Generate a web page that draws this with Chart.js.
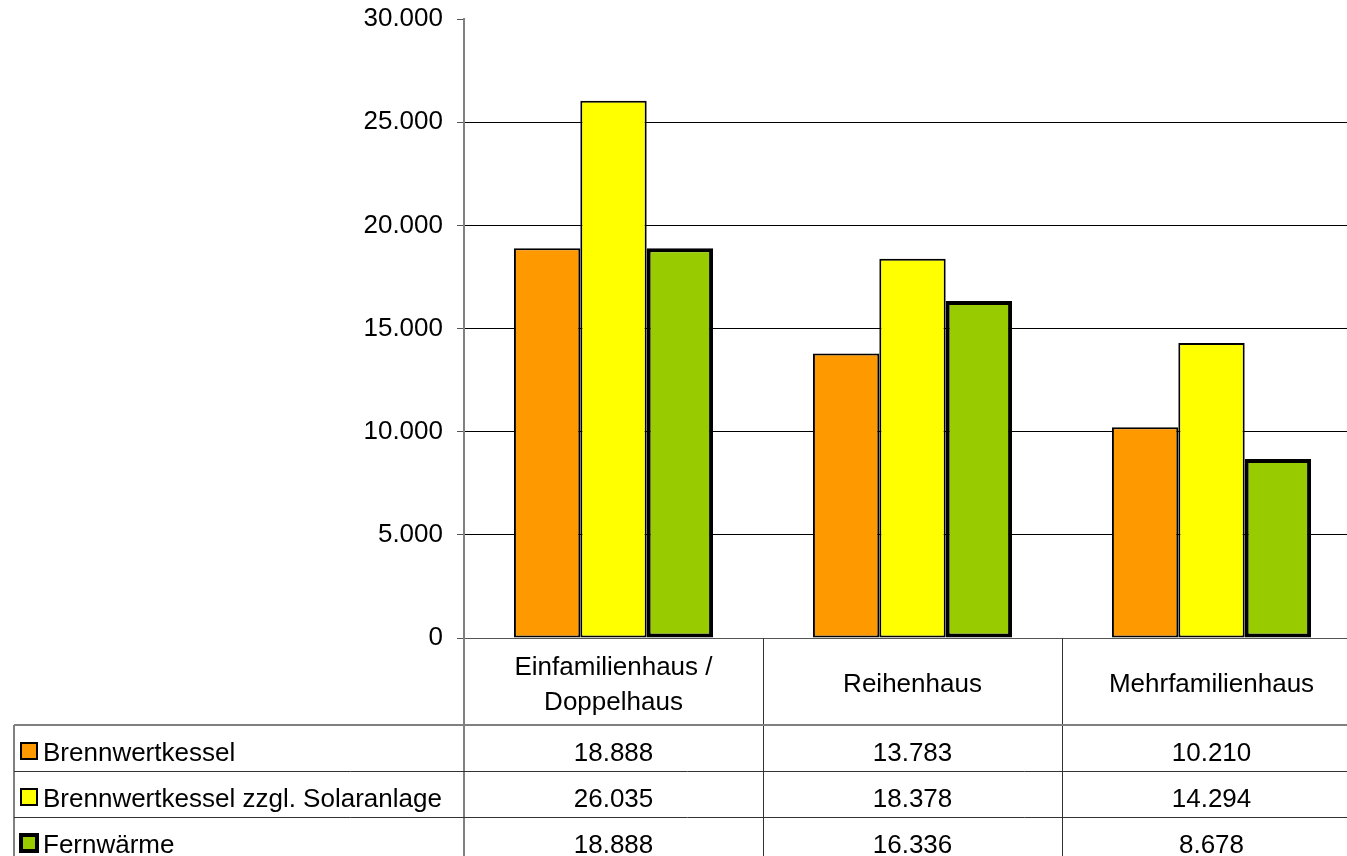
<!DOCTYPE html>
<html lang="de">
<head>
    <meta charset="UTF-8">
    <title>Heizkosten Vergleich</title>
    <script src="https://cdn.jsdelivr.net/npm/chart.js"></script>
    <style>
        html, body {
            margin: 0;
            padding: 0;
            background: #fff;
            overflow: hidden;
        }
        .wrap {
            width: 1361px;
            height: 856px;
        }
    </style>
</head>
<body>
    <div class="wrap">
        <canvas id="chart"></canvas>
    </div>

    <script>
        // Daten
        const categories = [['Einfamilienhaus /', 'Doppelhaus'], 'Reihenhaus', 'Mehrfamilienhaus'];
        const seriesNames = ['Brennwertkessel', 'Brennwertkessel zzgl. Solaranlage', 'Fernwärme'];
        const brennwertkessel = [18888, 13783, 10210];
        const brennwertSolar = [26035, 18378, 14294];
        const fernwaerme = [18888, 16336, 8678];
        const yTicks = [0, 5000, 10000, 15000, 20000, 25000, 30000];

        const colors = ['#ff9900', '#ffff00', '#99cc00'];
        const borders = [2, 2, 4];

        const fmt = v => String(v).replace(/\B(?=(\d{3})+(?!\d))/g, '.');

        Chart.defaults.font.family = '"Liberation Sans", Arial, sans-serif';
        Chart.defaults.font.size = 26;
        Chart.defaults.color = '#000';

        // Datentabelle unter dem Diagramm
        const tablePlugin = {
            id: 'dataTable',
            afterDraw(chart) {
                const ctx = chart.ctx;
                const area = chart.chartArea;
                const x = chart.scales.x;
                const n = categories.length;
                const colW = (area.right - area.left) / n;
                const labelTop = area.bottom;
                const tableTop = area.bottom + 87;
                const rowH = 46;
                const tableLeft = 14;
                const tableBottom = chart.height;

                ctx.save();
                ctx.font = '26px "Liberation Sans", Arial, sans-serif';
                ctx.fillStyle = '#000';
                ctx.textBaseline = 'middle';

                // Rahmenlinien
                ctx.lineWidth = 1;
                ctx.strokeStyle = '#333';
                for (let i = 1; i < n; i++) {
                    const px = Math.round(area.left + colW * i) + 0.5;
                    ctx.beginPath();
                    ctx.moveTo(px, labelTop);
                    ctx.lineTo(px, tableBottom);
                    ctx.stroke();
                }
                ctx.strokeStyle = '#808080';
                ctx.lineWidth = 2;
                ctx.beginPath();
                ctx.moveTo(area.left, labelTop);
                ctx.lineTo(area.left, tableBottom);
                ctx.stroke();
                ctx.beginPath();
                ctx.moveTo(tableLeft, tableTop);
                ctx.lineTo(area.right, tableTop);
                ctx.stroke();
                ctx.beginPath();
                ctx.moveTo(tableLeft, tableTop);
                ctx.lineTo(tableLeft, tableBottom);
                ctx.stroke();
                ctx.strokeStyle = '#333';
                ctx.lineWidth = 1;
                for (let r = 1; r < seriesNames.length; r++) {
                    const py = tableTop + rowH * r + 0.5;
                    ctx.beginPath();
                    ctx.moveTo(tableLeft, py);
                    ctx.lineTo(area.right, py);
                    ctx.stroke();
                }

                // Kategorien
                ctx.textAlign = 'center';
                const labelMid = labelTop + 47;
                categories.forEach((c, i) => {
                    const cx = x.getPixelForValue(i);
                    const lines = Array.isArray(c) ? c : [c];
                    lines.forEach((l, j) => {
                        ctx.fillText(l, cx, labelMid + (j - (lines.length - 1) / 2) * 35);
                    });
                });

                // Zeilen
                chart.data.datasets.forEach((ds, r) => {
                    const cy = tableTop + rowH * r + 29;
                    const sq = 16;
                    const sx = 21, sy = cy - 11;
                    ctx.fillStyle = ds.backgroundColor;
                    ctx.fillRect(sx, sy, sq, sq);
                    ctx.strokeStyle = '#000';
                    ctx.lineWidth = ds.borderWidth;
                    ctx.strokeRect(sx, sy, sq, sq);
                    ctx.fillStyle = '#000';
                    ctx.textAlign = 'left';
                    ctx.fillText(ds.label, 43, cy);
                    ctx.textAlign = 'center';
                    ds.data.forEach((v, i) => {
                        ctx.fillText(fmt(v), x.getPixelForValue(i), cy);
                    });
                });
                ctx.restore();
            }
        };

        const values = [brennwertkessel, brennwertSolar, fernwaerme];

        new Chart(document.getElementById('chart'), {
            type: 'bar',
            data: {
                labels: categories,
                datasets: seriesNames.map((name, i) => ({
                    label: name,
                    data: values[i],
                    backgroundColor: colors[i],
                    borderColor: '#000',
                    borderWidth: borders[i],
                    borderSkipped: false,
                    categoryPercentage: 0.666,
                    barPercentage: 1
                }))
            },
            options: {
                responsive: true,
                maintainAspectRatio: false,
                animation: false,
                layout: { padding: { top: 19, left: 0, right: 0, bottom: 0 } },
                plugins: {
                    legend: { display: false },
                    tooltip: { enabled: false }
                },
                scales: {
                    x: {
                        grid: { display: false },
                        border: { display: false },
                        ticks: { display: false },
                        afterFit: s => { s.height = 218; }
                    },
                    y: {
                        min: 0,
                        max: 30000,
                        afterBuildTicks: s => { s.ticks = yTicks.map(v => ({ value: v })); },
                        ticks: {
                            padding: 14,
                            callback: v => fmt(v)
                        },
                        grid: {
                            color: c => c.tick && c.tick.value === 30000 ? 'rgba(0,0,0,0)' : (c.tick && c.tick.value === 0 ? '#555' : '#000'),
                            tickColor: '#555',
                            tickLength: 7,
                            lineWidth: 1
                        },
                        border: { color: '#808080', width: 2 },
                        afterFit: s => {
                            s.width = 464;
                            s.paddingTop = 0;
                            s.paddingBottom = 0;
                        }
                    }
                }
            },
            plugins: [tablePlugin]
        });
    </script>
</body>
</html>
